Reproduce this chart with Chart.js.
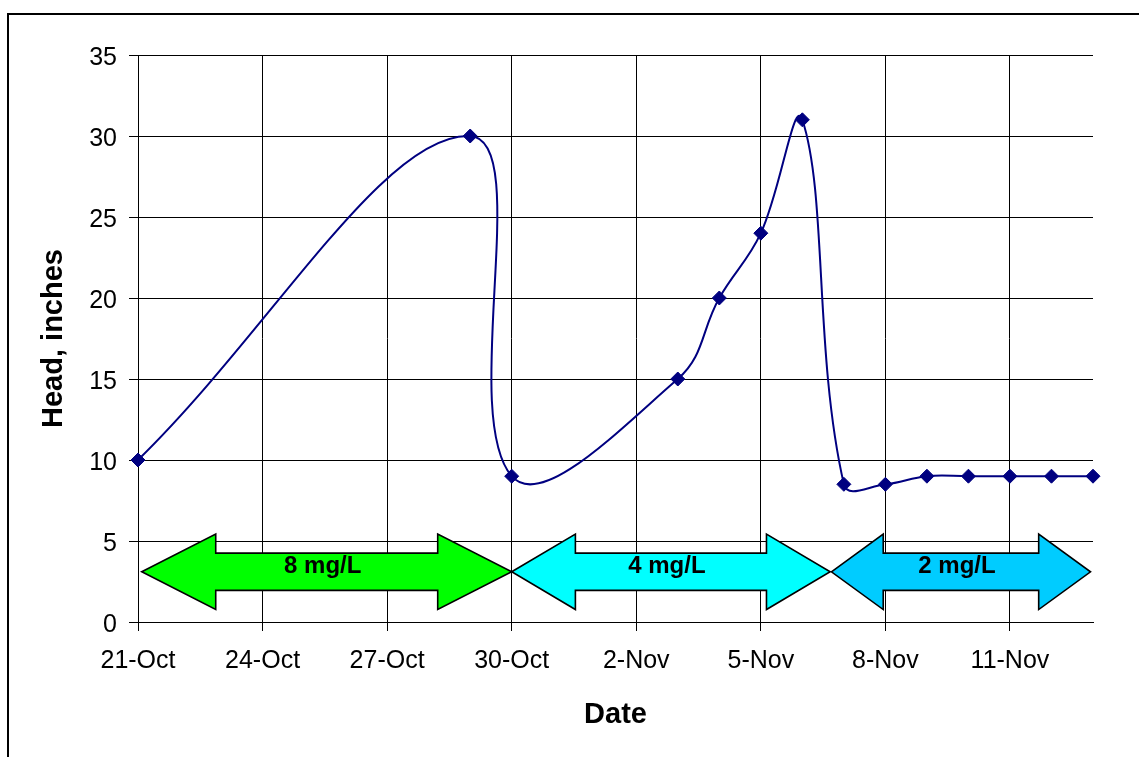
<!DOCTYPE html>
<html>
<head>
<meta charset="utf-8">
<script src="https://cdn.jsdelivr.net/npm/chart.js@4/dist/chart.umd.min.js"></script>
<style>
  html, body { margin: 0; padding: 0; background: #ffffff; }
  canvas { display: block; }
</style>
</head>
<body>
<canvas id="chart" width="1139" height="757"></canvas>
<script>
// Observation dates (month-day) and measured head, inches
const obsDates = ['10-21', '10-29', '10-30', '11-03', '11-04', '11-05', '11-06',
                  '11-07', '11-08', '11-09', '11-10', '11-11', '11-12', '11-13'];
const headInches = [10, 30, 9, 15, 20, 24, 31, 8.5, 8.5, 9, 9, 9, 9, 9];

// Axis tick labels
const dateTicks = ['10-21', '10-24', '10-27', '10-30', '11-02', '11-05', '11-08', '11-11'];
const headTicks = [0, 5, 10, 15, 20, 25, 30, 35];

// Dosing periods: label, start and end in days after 21-Oct
const doseLabels = ['8 mg/L', '4 mg/L', '2 mg/L'];
const doseFrom = [0.09, 9.0, 16.7];
const doseTo = [9.0, 16.67, 22.94];
const doseColors = ['#00ff00', '#00ffff', '#00ccff'];

const MONTHS = ['Jan', 'Feb', 'Mar', 'Apr', 'May', 'Jun', 'Jul', 'Aug', 'Sep', 'Oct', 'Nov', 'Dec'];
const BASE = Date.UTC(2000, 9, 21);
function dayOf(md) {
  const [m, d] = md.split('-').map(Number);
  return (Date.UTC(2000, m - 1, d) - BASE) / 86400000;
}
function dateLabel(day) {
  const dt = new Date(BASE + Math.round(day) * 86400000);
  return dt.getUTCDate() + '-' + MONTHS[dt.getUTCMonth()];
}

const FONT = "'Liberation Sans', Arial, Helvetica, sans-serif";

// Outer frame of the chart
const framePlugin = {
  id: 'frame',
  beforeDraw(chart) {
    const ctx = chart.ctx;
    ctx.save();
    ctx.strokeStyle = '#000000';
    ctx.lineWidth = 2;
    ctx.strokeRect(8, 14, 1200, 800);
    ctx.restore();
  }
};

// Double-headed block arrows marking each dosing period
const dosePlugin = {
  id: 'doseArrows',
  afterDatasetsDraw(chart) {
    const ctx = chart.ctx;
    const xs = chart.scales.x, ys = chart.scales.y;
    const yc = ys.getPixelForValue(3.1);
    const headHalf = yc - ys.getPixelForValue(5.43);
    const bodyHalf = yc - ys.getPixelForValue(4.25);
    ctx.save();
    doseLabels.forEach((label, i) => {
      const x0 = xs.getPixelForValue(doseFrom[i]);
      const x1 = xs.getPixelForValue(doseTo[i]);
      const head = 0.2 * (x1 - x0);
      ctx.beginPath();
      ctx.moveTo(x0, yc);
      ctx.lineTo(x0 + head, yc - headHalf);
      ctx.lineTo(x0 + head, yc - bodyHalf);
      ctx.lineTo(x1 - head, yc - bodyHalf);
      ctx.lineTo(x1 - head, yc - headHalf);
      ctx.lineTo(x1, yc);
      ctx.lineTo(x1 - head, yc + headHalf);
      ctx.lineTo(x1 - head, yc + bodyHalf);
      ctx.lineTo(x0 + head, yc + bodyHalf);
      ctx.lineTo(x0 + head, yc + headHalf);
      ctx.closePath();
      ctx.fillStyle = doseColors[i];
      ctx.fill();
      ctx.lineWidth = 1.6;
      ctx.lineJoin = 'miter';
      ctx.strokeStyle = '#000000';
      ctx.stroke();
      ctx.fillStyle = '#000000';
      ctx.font = 'bold 24px ' + FONT;
      ctx.textAlign = 'center';
      ctx.textBaseline = 'middle';
      ctx.fillText(label, (x0 + x1) / 2 - 4, yc - 5);
    });
    ctx.restore();
  }
};

new Chart(document.getElementById('chart'), {
  type: 'line',
  data: {
    datasets: [{
      label: 'Head',
      data: obsDates.map((d, i) => ({ x: dayOf(d), y: headInches[i] })),
      borderColor: '#000080',
      backgroundColor: '#000080',
      borderWidth: 2,
      tension: 0.4,
      pointStyle: 'rectRot',
      pointRadius: 7,
      pointBackgroundColor: '#000080',
      pointBorderColor: '#000080',
      pointBorderWidth: 1,
      clip: false
    }]
  },
  options: {
    responsive: false,
    animation: false,
    devicePixelRatio: 1,
    layout: { padding: { top: 55, right: 46, left: 0, bottom: 0 }, autoPadding: false },
    plugins: { legend: { display: false }, tooltip: { enabled: false } },
    scales: {
      x: {
        type: 'linear',
        position: 'bottom',
        min: dayOf(obsDates[0]),
        max: dayOf(obsDates[obsDates.length - 1]),
        afterBuildTicks(scale) {
          scale.ticks = dateTicks.map(d => ({ value: dayOf(d) }));
        },
        afterFit(scale) { scale.height = 135; },
        grid: { color: '#000000', lineWidth: 1, drawTicks: true, tickLength: 9, tickColor: '#000000' },
        border: { display: true, color: '#000000', width: 1 },
        ticks: {
          color: '#000000',
          font: { family: FONT, size: 25 },
          padding: 15,
          maxRotation: 0,
          autoSkip: false,
          callback: v => dateLabel(v)
        },
        title: {
          display: true,
          text: 'Date',
          color: '#000000',
          font: { family: FONT, size: 29, weight: 'bold' },
          padding: { top: 0, bottom: 25 }
        }
      },
      y: {
        min: headTicks[0],
        max: headTicks[headTicks.length - 1],
        afterBuildTicks(scale) {
          scale.ticks = headTicks.map(v => ({ value: v }));
        },
        afterFit(scale) { scale.width = 138; },
        grid: { color: '#000000', lineWidth: 1, drawTicks: true, tickLength: 9, tickColor: '#000000' },
        border: { display: true, color: '#000000', width: 1 },
        ticks: {
          color: '#000000',
          font: { family: FONT, size: 25 },
          padding: 12,
          labelOffset: 3,
          callback: v => String(v)
        },
        title: {
          display: true,
          text: 'Head, inches',
          color: '#000000',
          font: { family: FONT, size: 29, weight: 'bold' },
          padding: { top: 37, bottom: 0 }
        }
      }
    }
  },
  plugins: [framePlugin, dosePlugin]
});
</script>
</body>
</html>
